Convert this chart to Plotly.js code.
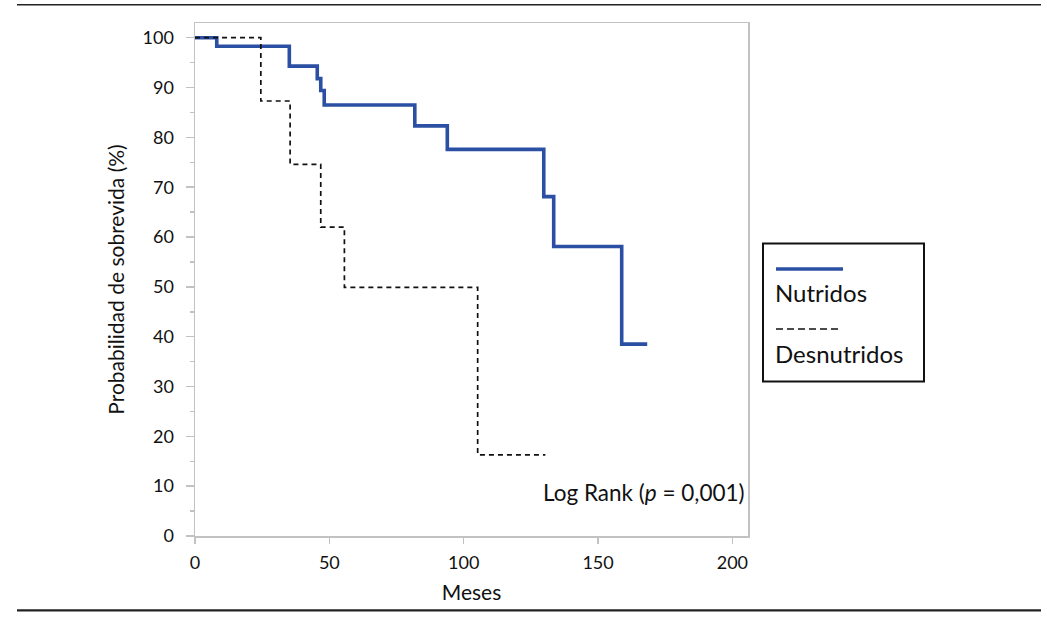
<!DOCTYPE html>
<html>
<head>
<meta charset="utf-8">
<script src="https://cdn.plot.ly/plotly-3.0.1.min.js"></script>
<style>html,body{margin:0;padding:0;background:#fff;}#chart{width:1047px;height:620px;}</style>
</head>
<body>
<div id="chart"></div>
<script>
// Data (months, survival %)
const nutridosMeses = [0, 8.1, 35.1, 45.5, 46.8, 48.1, 81.8, 93.9, 129.8, 133.5, 158.8, 168.3];
const nutridosProb  = [100, 98.3, 94.3, 91.8, 89.4, 86.5, 82.3, 77.6, 68.1, 58.1, 38.5, 38.5];
const desnutridosMeses = [0, 24.5, 35.4, 46.8, 55.6, 105.2, 130.4];
const desnutridosProb  = [100, 87.3, 74.6, 62.0, 49.9, 16.3, 16.3];
const xTicks = [0, 50, 100, 150, 200];
const yTicks = [0, 10, 20, 30, 40, 50, 60, 70, 80, 90, 100];
const seriesNames = ['Nutridos', 'Desnutridos'];

// plot-area geometry in pixels (for decorations only)
const L = 195, R = 748, T = 23.3, B = 535.7;
const px = p => (p - L) / (R - L);
const py = p => (B - p) / (B - T);

const FONT = 'Lato, "Open Sans", sans-serif';
const blue = '#2b4fa3';

const traces = [
  {x: nutridosMeses, y: nutridosProb, name: seriesNames[0], mode: 'lines',
   line: {shape: 'hv', color: blue, width: 3.6}, showlegend: false},
  {x: desnutridosMeses, y: desnutridosProb, name: seriesNames[1], mode: 'lines',
   line: {shape: 'hv', color: '#111', width: 1.7, dash: '5px,4px'}, showlegend: false}
];

const gray = '#c2c2c2';
const layout = {
  width: 1047, height: 620,
  margin: {l: L, r: 1047 - R, t: T, b: 620 - B},
  paper_bgcolor: '#fff', plot_bgcolor: '#fff',
  font: {family: FONT, color: '#111', size: 18},
  showlegend: false,
  xaxis: {
    range: [0, (R - L) / 2.687], tickvals: xTicks, ticktext: xTicks.map(String),
    showgrid: false, zeroline: false, showline: true, mirror: true,
    linecolor: gray, linewidth: 1.5, ticks: 'outside', ticklen: 6, tickcolor: gray, tickwidth: 1.5,
    ticklabelstandoff: 4,
    tickfont: {size: 18, family: FONT, color: '#111'}, automargin: false,
    title: {text: 'Meses', font: {size: 21, family: FONT, color: '#111'}, standoff: 13}
  },
  yaxis: {
    range: [0, (B - T) / 4.977], tickvals: yTicks, ticktext: yTicks.map(String),
    showgrid: false, zeroline: false, showline: true, mirror: true,
    linecolor: gray, linewidth: 1.5, ticks: 'outside', ticklen: 8, tickcolor: gray, tickwidth: 1.5,
    ticklabelstandoff: 8,
    minor: {dtick: 5, ticks: 'outside', ticklen: 4, tickcolor: gray, tickwidth: 1.5, showgrid: false},
    tickfont: {size: 18, family: FONT, color: '#111'}, automargin: false,
    title: {text: 'Probabilidad de sobrevida (%)', font: {size: 21, family: FONT, color: '#111'}, standoff: 12}
  },
  shapes: [
    // rule lines above and below the figure
    {type: 'line', xref: 'paper', yref: 'paper', x0: px(17), x1: px(1041), y0: py(5), y1: py(5),
     line: {color: '#222', width: 1.6}},
    {type: 'line', xref: 'paper', yref: 'paper', x0: px(17), x1: px(1041), y0: py(610), y1: py(610),
     line: {color: '#222', width: 2.2}},
    // legend box
    {type: 'rect', xref: 'paper', yref: 'paper', x0: px(763), x1: px(924), y0: py(243.5), y1: py(381.5),
     line: {color: '#111', width: 2}, fillcolor: 'rgba(0,0,0,0)'},
    {type: 'line', xref: 'paper', yref: 'paper', x0: px(776), x1: px(843), y0: py(269), y1: py(269),
     line: {color: blue, width: 3.6}},
    {type: 'line', xref: 'paper', yref: 'paper', x0: px(776), x1: px(842), y0: py(329), y1: py(329),
     line: {color: '#111', width: 1.5, dash: '7px,4px'}}
  ],
  annotations: [
    {xref: 'paper', yref: 'paper', x: px(773), y: py(292), xanchor: 'left', yanchor: 'middle',
     text: seriesNames[0], showarrow: false, font: {size: 24, family: FONT, color: '#111'}},
    {xref: 'paper', yref: 'paper', x: px(773), y: py(353), xanchor: 'left', yanchor: 'middle',
     text: seriesNames[1], showarrow: false, font: {size: 24, family: FONT, color: '#111'}},
    {xref: 'paper', yref: 'paper', x: px(747), y: py(492), xanchor: 'right', yanchor: 'middle',
     text: 'Log Rank (<i>p</i> = 0,001)', showarrow: false, font: {size: 22.5, family: FONT, color: '#111'}}
  ]
};

Plotly.newPlot('chart', traces, layout, {displayModeBar: false, staticPlot: true});
</script>
</body>
</html>
